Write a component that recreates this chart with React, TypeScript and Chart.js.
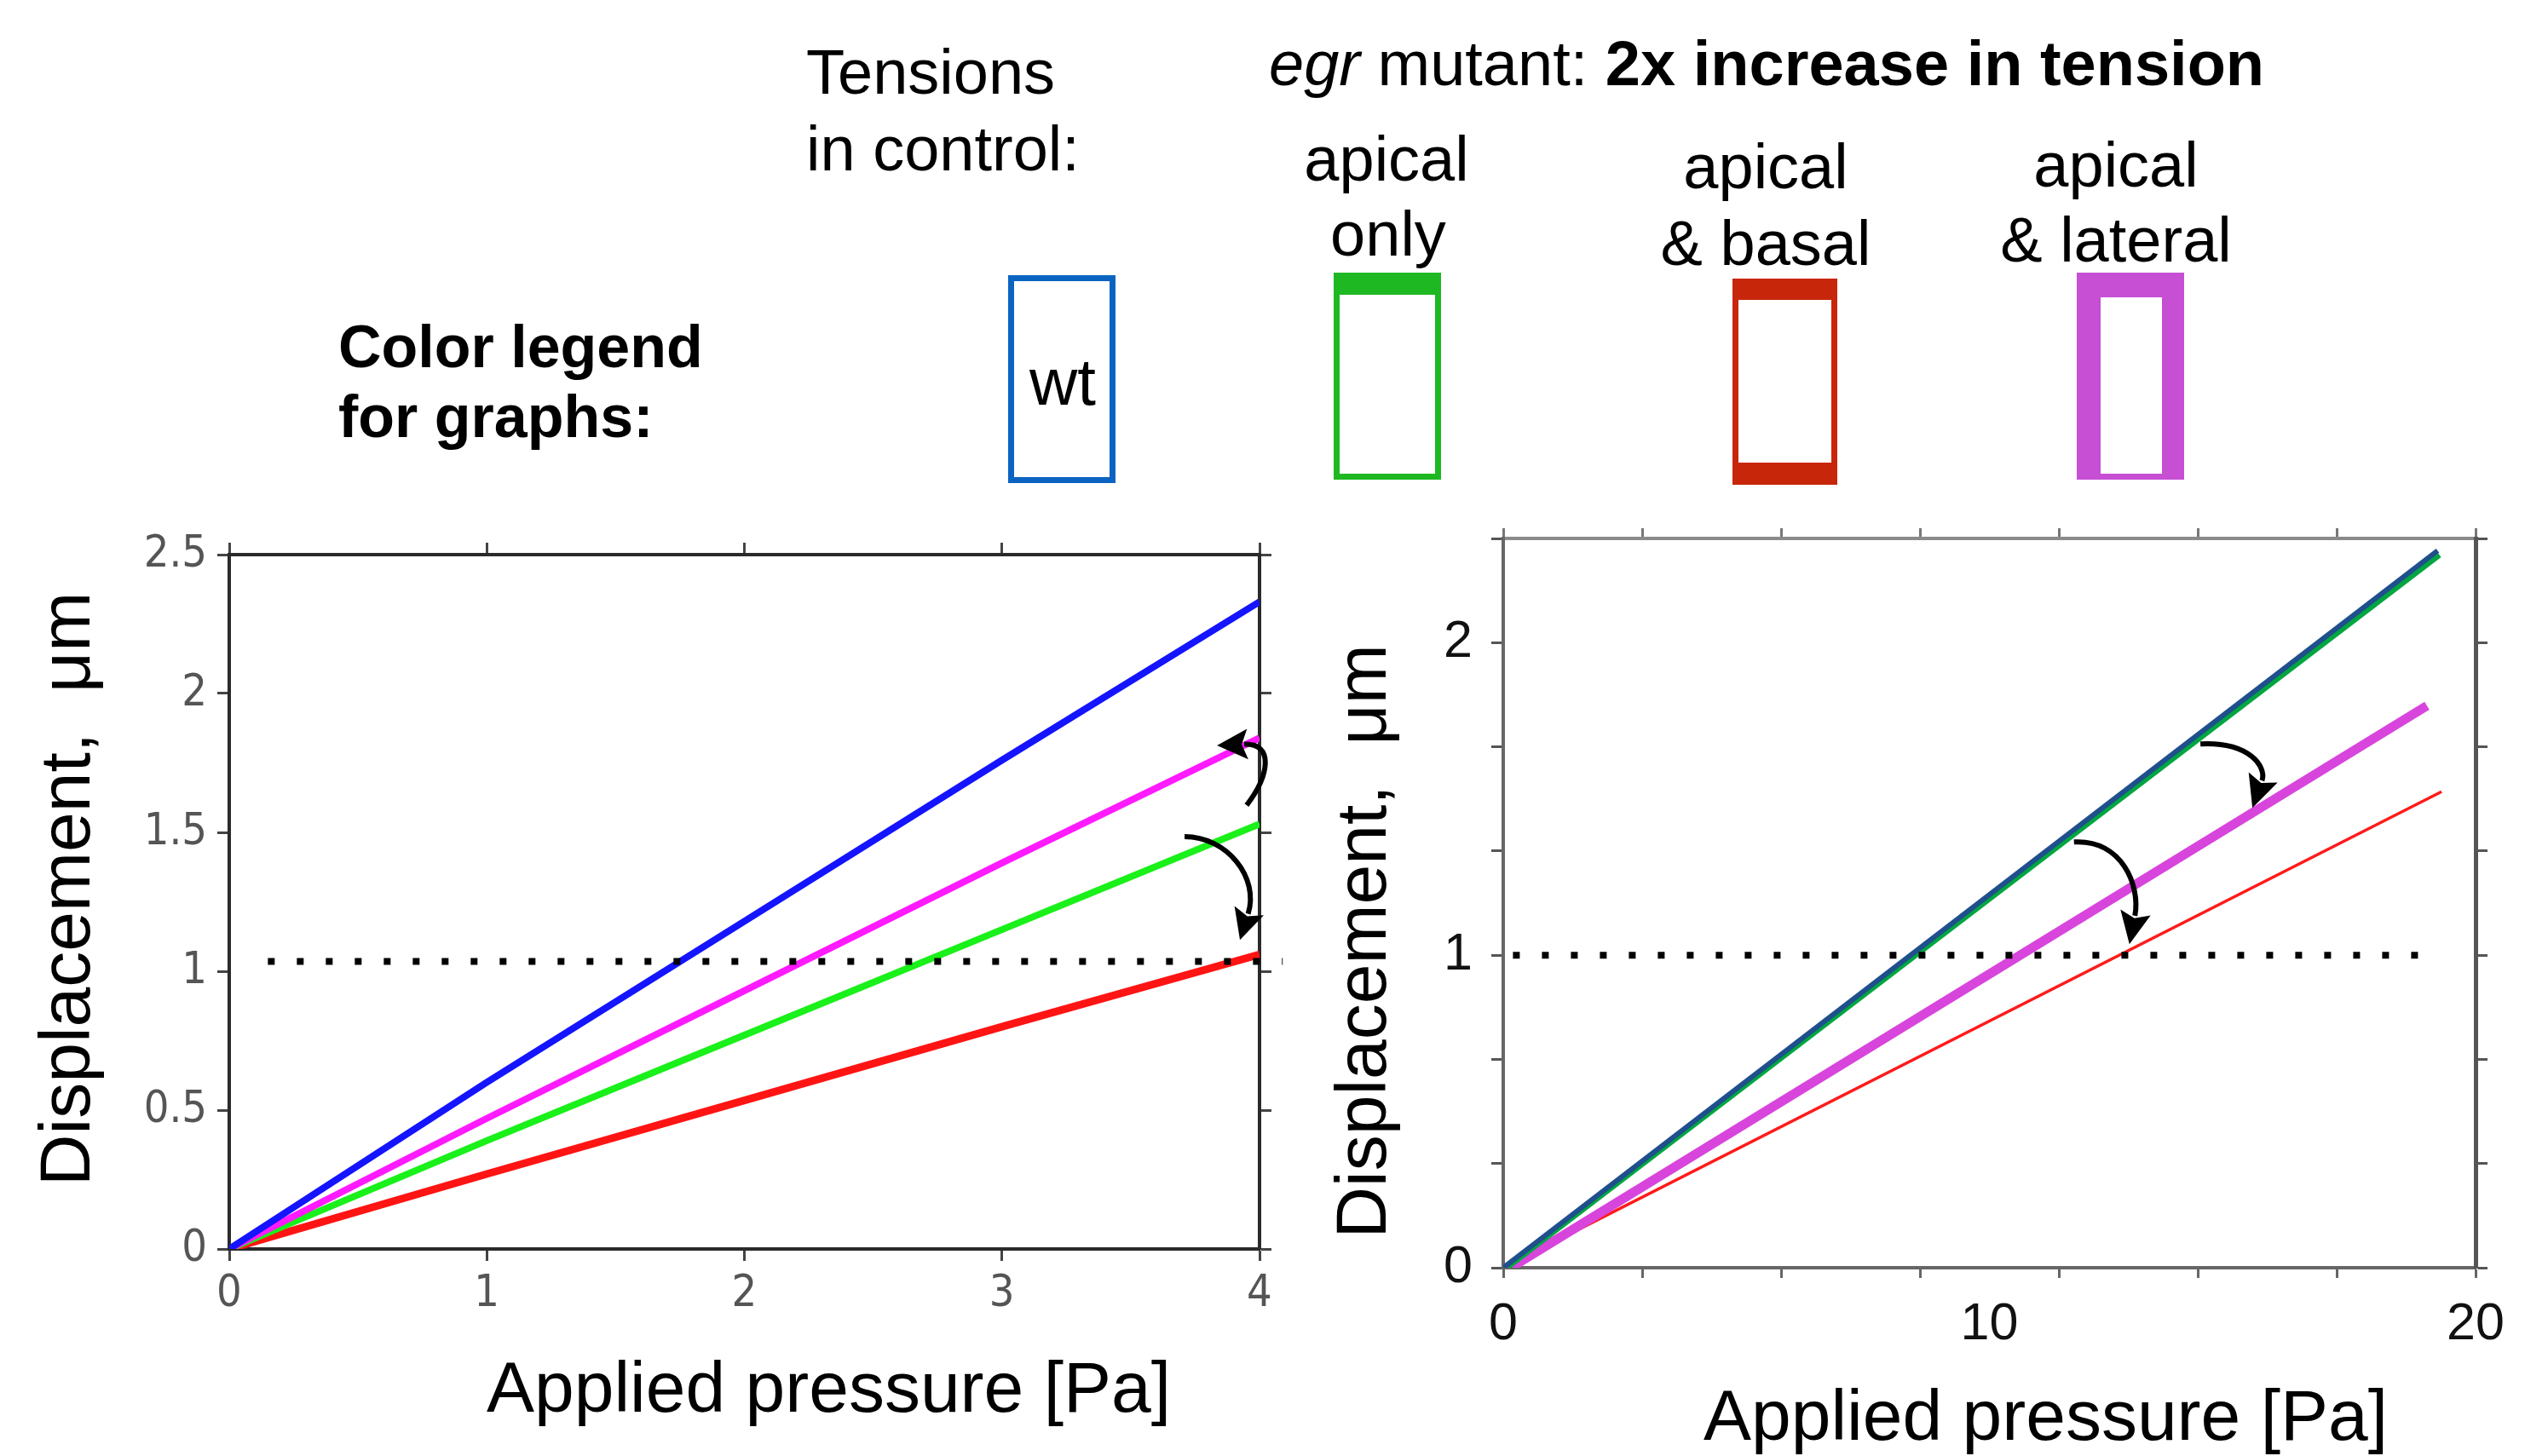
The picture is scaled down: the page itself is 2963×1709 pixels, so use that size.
import React, { useEffect, useRef } from "react";
import { Chart, registerables } from "chart.js";

Chart.register(...registerables);

// ---------------- Data ----------------
// Left graph: applied pressure 0..4 Pa
const leftPressure = [0, 1, 2, 3, 4];
const leftWt = [0, 0.6, 1.18, 1.76, 2.33];
const leftApicalLateral = [0, 0.47, 0.93, 1.39, 1.84];
const leftApicalOnly = [0, 0.39, 0.77, 1.15, 1.53];
const leftApicalBasal = [0, 0.27, 0.535, 0.8, 1.06];
const leftThresholdX = [0.15, 4.09];
const leftThresholdY = [1.035, 1.035];

// Right graph: applied pressure 0..20 Pa
const rightWtX = [0, 19.22];
const rightWtY = [0, 2.294];
const rightApicalOnlyX = [0.08, 19.26];
const rightApicalOnlyY = [0, 2.28];
const rightApicalLateralX = [0.15, 19.0];
const rightApicalLateralY = [0, 1.798];
const rightApicalBasalX = [0, 19.3];
const rightApicalBasalY = [0, 1.523];
const rightThresholdX = [0.2, 19.2];
const rightThresholdY = [1, 1];

// Curved annotation arrows (data coordinates: start, control 1, control 2, tip)
const leftArrowUp = [[3.95, 1.598], [4.04, 1.706], [4.056, 1.822], [3.835, 1.813]];
const leftArrowDown = [[3.709, 1.485], [3.874, 1.485], [4.0, 1.337], [3.924, 1.113]];
const rightArrowUpper = [[14.34, 1.676], [15.355, 1.684], [15.705, 1.602], [15.41, 1.471]];
const rightArrowLower = [[11.74, 1.362], [12.73, 1.371], [13.11, 1.221], [12.88, 1.035]];

// Ticks
const leftXTicks = [0, 1, 2, 3, 4];
const leftYTicks = [0, 0.5, 1, 1.5, 2, 2.5];
const rightXMarks = [0, 20 / 7, 40 / 7, 60 / 7, 80 / 7, 100 / 7, 120 / 7, 20];
const rightXLabels = [0, 10, 20];
const rightYMarks = [0, 1 / 3, 2 / 3, 1, 4 / 3, 5 / 3, 2, 7 / 3];
const rightYLabels = [0, 1, 2];

// Text
const xTitle = "Applied pressure [Pa]";
const yTitle = "Displacement,  \u03bcm";
const legendHeads = ["apical", "apical", "apical"];
const legendTails = ["only", "& basal", "& lateral"];

// ---------------- helpers ----------------
const SANS = "'Liberation Sans', Arial, Helvetica, sans-serif";
const NARROW = "'Liberation Sans Narrow', 'DejaVu Sans Condensed', 'Liberation Sans', Arial, sans-serif";

const pts = (xs: number[], ys: number[]) => xs.map((x, i) => ({ x, y: ys[i] }));

function arrowsPlugin(arrows: number[][][], lw: number, headLen: number, headHalf: number) {
  return {
    id: "arrows",
    afterDatasetsDraw(chart: any) {
      const xs = chart.scales.x;
      const ys = chart.scales.y;
      const ctx = chart.ctx;
      ctx.save();
      ctx.strokeStyle = "#000";
      ctx.fillStyle = "#000";
      ctx.lineWidth = lw;
      ctx.lineCap = "butt";
      for (const a of arrows) {
        const p = a.map(([vx, vy]) => [xs.getPixelForValue(vx), ys.getPixelForValue(vy)]);
        const [p0, c1, c2, tip] = p;
        let dx = tip[0] - c2[0];
        let dy = tip[1] - c2[1];
        const len = Math.hypot(dx, dy) || 1;
        dx /= len;
        dy /= len;
        const base = [tip[0] - dx * headLen, tip[1] - dy * headLen];
        ctx.beginPath();
        ctx.moveTo(p0[0], p0[1]);
        ctx.bezierCurveTo(c1[0], c1[1], c2[0], c2[1], base[0] + dx * 4, base[1] + dy * 4);
        ctx.stroke();
        const px = -dy;
        const py = dx;
        ctx.beginPath();
        ctx.moveTo(tip[0], tip[1]);
        ctx.lineTo(base[0] + px * headHalf, base[1] + py * headHalf);
        ctx.lineTo(base[0] + dx * 7, base[1] + dy * 7);
        ctx.lineTo(base[0] - px * headHalf, base[1] - py * headHalf);
        ctx.closePath();
        ctx.fill();
      }
      ctx.restore();
    },
  };
}

function titlesPlugin(cfg: { size: number; xDx: number; xDy: number; yDx: number; yDy: number }) {
  return {
    id: "axisTitles",
    afterDraw(chart: any) {
      const { ctx, chartArea: a } = chart;
      ctx.save();
      ctx.fillStyle = "#000";
      ctx.font = `${cfg.size}px ${SANS}`;
      ctx.textAlign = "center";
      ctx.textBaseline = "alphabetic";
      ctx.fillText(xTitle, (a.left + a.right) / 2 + cfg.xDx, a.bottom + cfg.xDy);
      ctx.translate(a.left + cfg.yDx, (a.top + a.bottom) / 2 + cfg.yDy);
      ctx.rotate(-Math.PI / 2);
      ctx.fillText(yTitle, 0, 0);
      ctx.restore();
    },
  };
}

const dotted = { borderColor: "#000", borderWidth: 8, borderDash: [8, 26], borderCapStyle: "butt", pointRadius: 0, clip: false };

function makeLeftConfig(): any {
  const tickFont = { family: NARROW, size: 52 };
  const grid = { drawOnChartArea: false, drawTicks: true, tickLength: 14, tickWidth: 3, tickColor: "#444" };
  const border = { display: true, color: "#2a2a2a", width: 4 };
  const xTickBuild = (s: any) => { s.ticks = leftXTicks.map((v) => ({ value: v })); };
  const yTickBuild = (s: any) => { s.ticks = leftYTicks.map((v) => ({ value: v })); };
  return {
    type: "line",
    data: {
      datasets: [
        { ...dotted, data: pts(leftThresholdX, leftThresholdY) },
        { data: pts(leftPressure, leftWt), borderColor: "#1414ff", borderWidth: 8, pointRadius: 0 },
        { data: pts(leftPressure, leftApicalLateral), borderColor: "#ff1aff", borderWidth: 8, pointRadius: 0 },
        { data: pts(leftPressure, leftApicalOnly), borderColor: "#1af01a", borderWidth: 8, pointRadius: 0 },
        { data: pts(leftPressure, leftApicalBasal), borderColor: "#ff1414", borderWidth: 9, pointRadius: 0 },
      ],
    },
    options: {
      responsive: false,
      maintainAspectRatio: false,
      animation: false,
      events: [],
      layout: { padding: 0 },
      plugins: { legend: { display: false }, tooltip: { enabled: false } },
      scales: {
        x: {
          type: "linear", position: "bottom", min: 0, max: 4,
          afterBuildTicks: xTickBuild,
          ticks: { font: tickFont, color: "#555", padding: 8, maxRotation: 0, autoSkip: false, callback: (v: any) => String(v) },
          grid, border,
          afterFit: (s: any) => { s.height = 243; },
        },
        xTop: {
          type: "linear", position: "top", min: 0, max: 4,
          afterBuildTicks: xTickBuild,
          ticks: { display: false },
          grid, border,
          afterFit: (s: any) => { s.height = 91; },
        },
        y: {
          type: "linear", position: "left", min: 0, max: 2.5,
          afterBuildTicks: yTickBuild,
          ticks: { font: tickFont, color: "#555", padding: 12, autoSkip: false, callback: (v: any) => String(v) },
          grid, border,
          afterFit: (s: any) => { s.width = 269; },
        },
        yRight: {
          type: "linear", position: "right", min: 0, max: 2.5,
          afterBuildTicks: yTickBuild,
          ticks: { display: false },
          grid, border,
          afterFit: (s: any) => { s.width = 82; },
        },
      },
    },
    plugins: [
      arrowsPlugin([leftArrowUp, leftArrowDown], 6, 36, 18),
      titlesPlugin({ size: 84, xDx: 99, xDy: 191, yDx: -164, yDy: -15 }),
    ],
  };
}

function makeRightConfig(): any {
  const tickFont = { family: SANS, size: 61 };
  const border = { display: true, color: "#666", width: 4 };
  const isMark = (v: number, marks: number[]) => marks.some((m) => Math.abs(m - v) < 1e-9);
  const xGrid = {
    drawOnChartArea: false, drawTicks: true, tickLength: 12, tickWidth: 3,
    tickColor: (c: any) => (c.tick && isMark(c.tick.value, rightXMarks) ? "#666" : "rgba(0,0,0,0)"),
  };
  const yGrid = { drawOnChartArea: false, drawTicks: true, tickLength: 14, tickWidth: 3, tickColor: "#555" };
  const xBottomBuild = (s: any) => {
    const all = [...rightXMarks, ...rightXLabels.filter((v) => !isMark(v, rightXMarks))].sort((a, b) => a - b);
    s.ticks = all.map((v) => ({ value: v }));
  };
  const xTopBuild = (s: any) => { s.ticks = rightXMarks.map((v) => ({ value: v })); };
  const yBuild = (s: any) => { s.ticks = rightYMarks.map((v) => ({ value: v })); };
  return {
    type: "line",
    data: {
      datasets: [
        { ...dotted, data: pts(rightThresholdX, rightThresholdY) },
        { data: pts(rightWtX, rightWtY), borderColor: "#1f4f8c", borderWidth: 6, pointRadius: 0 },
        { data: pts(rightApicalOnlyX, rightApicalOnlyY), borderColor: "#00a640", borderWidth: 6, pointRadius: 0 },
        { data: pts(rightApicalLateralX, rightApicalLateralY), borderColor: "#d845dc", borderWidth: 11, pointRadius: 0 },
        { data: pts(rightApicalBasalX, rightApicalBasalY), borderColor: "#ff1a1a", borderWidth: 3.5, pointRadius: 0 },
      ],
    },
    options: {
      responsive: false,
      maintainAspectRatio: false,
      animation: false,
      events: [],
      layout: { padding: 0 },
      plugins: { legend: { display: false }, tooltip: { enabled: false } },
      scales: {
        x: {
          type: "linear", position: "bottom", min: 0, max: 20,
          afterBuildTicks: xBottomBuild,
          ticks: {
            font: tickFont, color: "#111", padding: 19, maxRotation: 0, autoSkip: false,
            callback: (v: any) => (isMark(v, rightXLabels) ? String(Math.round(v)) : ""),
          },
          grid: xGrid, border,
          afterFit: (s: any) => { s.height = 221; },
        },
        xTop: {
          type: "linear", position: "top", min: 0, max: 20,
          afterBuildTicks: xTopBuild,
          ticks: { display: false },
          grid: { ...xGrid, tickColor: "#777" }, border: { display: true, color: "#8a8a8a", width: 4 },
          afterFit: (s: any) => { s.height = 72; },
        },
        y: {
          type: "linear", position: "left", min: 0, max: 7 / 3,
          afterBuildTicks: yBuild,
          ticks: {
            font: tickFont, color: "#111", padding: 22, autoSkip: false,
            callback: (v: any) => (isMark(v, rightYLabels) ? String(Math.round(v)) : ""),
          },
          grid: yGrid, border,
          afterFit: (s: any) => { s.width = 204; },
        },
        yRight: {
          type: "linear", position: "right", min: 0, max: 7 / 3,
          afterBuildTicks: yBuild,
          ticks: { display: false },
          grid: yGrid, border: { display: true, color: "#555", width: 5 },
          afterFit: (s: any) => { s.width = 58; },
        },
      },
    },
    plugins: [
      arrowsPlugin([rightArrowUpper, rightArrowLower], 6, 38, 18),
      titlesPlugin({ size: 84, xDx: 66, xDy: 202, yDx: -138, yDy: 45 }),
    ],
  };
}

function ChartCanvas({ left, top, width, height, make }: { left: number; top: number; width: number; height: number; make: () => any }) {
  const ref = useRef<HTMLCanvasElement | null>(null);
  useEffect(() => {
    if (!ref.current) return;
    const chart = new Chart(ref.current, make());
    return () => chart.destroy();
  }, []);
  return (
    <canvas
      ref={ref}
      width={width}
      height={height}
      style={{ position: "absolute", left, top, width, height, display: "block" }}
    />
  );
}

function Txt({ x, baseline, size, center, bold, children }: any) {
  return (
    <div
      style={{
        position: "absolute",
        left: x,
        top: baseline - 0.8465 * size,
        fontSize: size,
        lineHeight: `${size}px`,
        fontFamily: SANS,
        fontWeight: bold ? 700 : 400,
        whiteSpace: "nowrap",
        color: "#000",
        transform: center ? "translateX(-50%)" : undefined,
      }}
    >
      {children}
    </div>
  );
}

function Box({ left, top, w, h, color, bt, br, bb, bl }: any) {
  return (
    <div
      style={{
        position: "absolute", left, top, width: w, height: h, boxSizing: "border-box",
        borderStyle: "solid", borderColor: color,
        borderTopWidth: bt, borderRightWidth: br, borderBottomWidth: bb, borderLeftWidth: bl,
      }}
    />
  );
}

export default function App() {
  useEffect(() => {
    document.body.style.margin = "0";
  }, []);
  return (
    <div style={{ position: "absolute", left: 0, top: 0, width: 2963, height: 1709, background: "#fff", overflow: "hidden" }}>
      {/* Header */}
      <Txt x={946} baseline={111} size={74}>Tensions</Txt>
      <Txt x={946} baseline={201} size={74}>in control:</Txt>
      <Txt x={1489} baseline={101} size={74}>
        <i>egr</i> mutant: <b>2x increase in tension</b>
      </Txt>
      <Txt x={1627} baseline={213} size={74} center>{legendHeads[0]}</Txt>
      <Txt x={1629} baseline={301} size={74} center>{legendTails[0]}</Txt>
      <Txt x={2072} baseline={222} size={74} center>{legendHeads[1]}</Txt>
      <Txt x={2072} baseline={312} size={74} center>{legendTails[1]}</Txt>
      <Txt x={2483} baseline={220} size={74} center>{legendHeads[2]}</Txt>
      <Txt x={2483} baseline={308} size={74} center>{legendTails[2]}</Txt>
      <Txt x={397} baseline={431} size={70} bold>Color legend</Txt>
      <Txt x={397} baseline={513} size={70} bold>for graphs:</Txt>

      {/* Legend boxes */}
      <Box left={1183} top={323} w={126} h={244} color="#0b64c2" bt={7} br={7} bb={7} bl={7} />
      <Txt x={1247} baseline={475} size={78} center>wt</Txt>
      <Box left={1565} top={320} w={126} h={243} color="#1eb822" bt={26} br={7} bb={7} bl={7} />
      <Box left={2033} top={327} w={123} h={242} color="#c8260a" bt={25} br={7} bb={26} bl={7} />
      <Box left={2437} top={320} w={126} h={243} color="#c64fd4" bt={29} br={26} bb={7} bl={28} />

      {/* Graphs */}
      <ChartCanvas left={0} top={560} width={1560} height={1149} make={makeLeftConfig} />
      <ChartCanvas left={1560} top={560} width={1403} height={1149} make={makeRightConfig} />
    </div>
  );
}
